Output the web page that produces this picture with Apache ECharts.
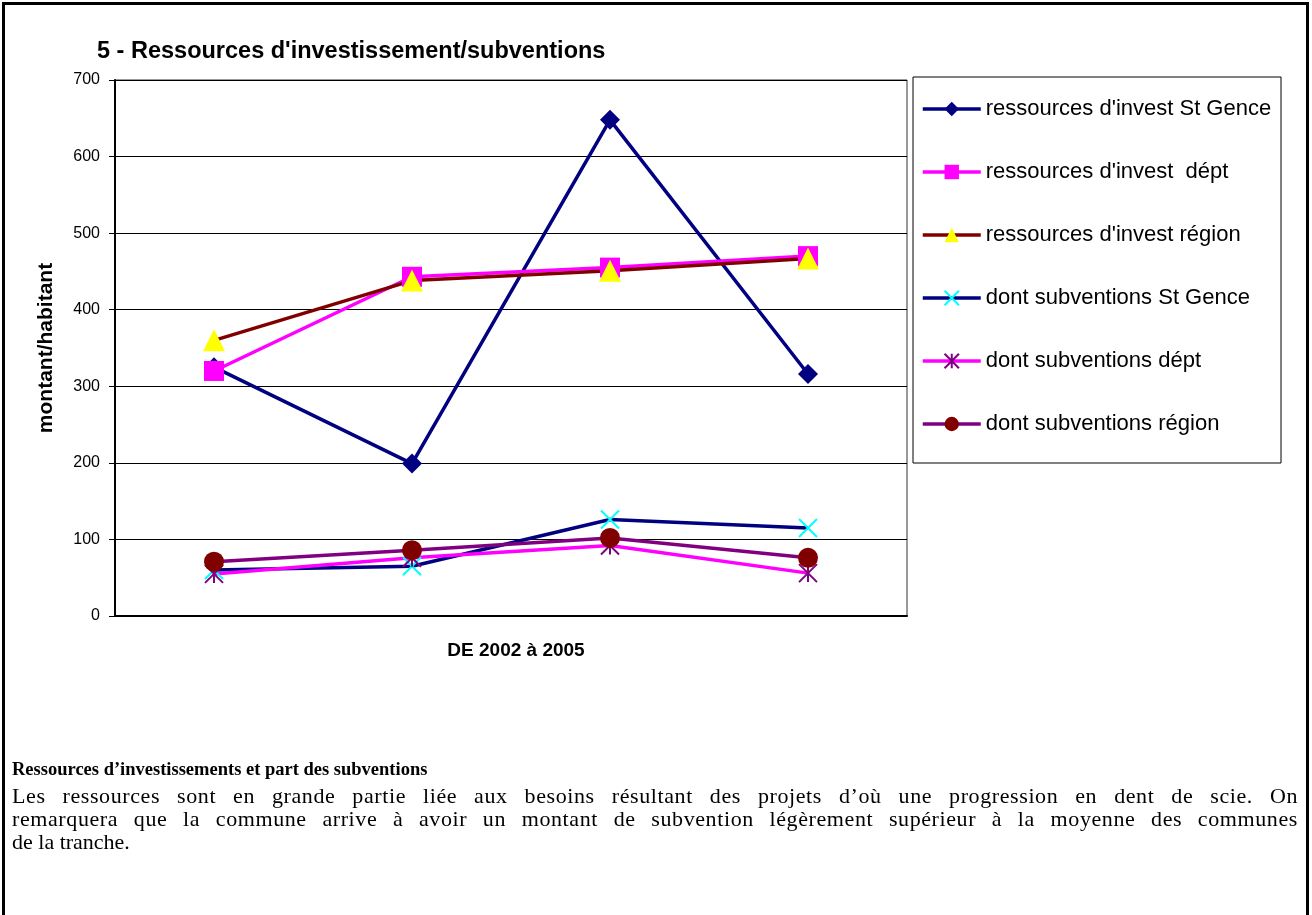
<!DOCTYPE html>
<html lang="fr">
<head>
<meta charset="UTF-8">
<title>Ressources d'investissement/subventions</title>
<script src="https://cdn.jsdelivr.net/npm/echarts@6.0.0/dist/echarts.min.js"></script>
<style>
  html, body { margin: 0; padding: 0; background: #fff; }
  #frame { position: absolute; left: 2px; top: 2px; width: 1307px; height: 930px; border: 3px solid #000; box-sizing: border-box; }
  #chart { position: absolute; left: 0; top: 0; width: 1312px; height: 915px; }
  #texte { position: absolute; left: 12px; top: 758px; width: 1286px; font-family: "Liberation Serif", "Times New Roman", serif; font-size: 22px; line-height: 23px; color: #000; }
  #texte .titre { margin: 0 0 3px 0; font-weight: bold; font-size: 18.5px; }
  #texte .ligne { text-align: justify; text-align-last: justify; white-space: nowrap; letter-spacing: 0.6px; }
  #texte .fin { text-align: left; }
</style>
</head>
<body>
<div id="chart"></div>
<div id="frame"></div>
<div id="texte">
  <div class="titre">Ressources d’investissements et part des subventions</div>
  <div class="ligne">Les ressources sont en grande partie liée aux besoins résultant des projets d’où une progression en dent de scie. On</div>
  <div class="ligne">remarquera que la commune arrive à avoir un montant de subvention légèrement supérieur à la moyenne des communes</div>
  <div class="fin">de la tranche.</div>
</div>

<script>
    // data
    var years = ['2002', '2003', '2004', '2005'];
    var investStGence = [325, 199, 648, 316];
    var investDept = [320, 443, 455, 470];
    var investRegion = [360, 438, 451, 467];
    var subvStGence = [60, 65, 126, 115];
    var subvDept = [55, 76, 92, 56];
    var subvRegion = [71, 86, 102, 76];
    var yTicks = [0, 100, 200, 300, 400, 500, 600, 700];

    var font = '"Liberation Sans", Arial, sans-serif';
    var cross = 'path://M0,0L10,10M10,0L0,10';
    var star = 'path://M0,0L10,10M10,0L0,10M5,0L5,10';

    function serie(name, data, lineColor, symbol, size, markColor, stroked) {
        return {
            name: name,
            type: 'line',
            data: data,
            symbol: symbol,
            symbolSize: size,
            lineStyle: { color: lineColor, width: 3.5 },
            itemStyle: stroked
                ? { color: markColor, borderColor: markColor, borderWidth: 2 }
                : { color: markColor },
            emphasis: { disabled: true },
            animation: false
        };
    }

    var chart = echarts.init(document.getElementById('chart'));
    chart.setOption({
        title: {
            text: "5 - Ressources d'investissement/subventions",
            left: 97,
            top: 40,
            padding: 0,
            textStyle: { fontFamily: font, fontSize: 23.5, fontWeight: 'bold', color: '#000' }
        },
        legend: {
            orient: 'vertical',
            left: 921,
            top: 97,
            padding: 0,
            itemWidth: 58,
            itemHeight: 18,
            itemGap: 39,
            lineStyle: { width: 3.5 },
            textStyle: { fontFamily: font, fontSize: 22, color: '#000', lineHeight: 24 },
            data: ["ressources d'invest St Gence", "ressources d'invest  dépt", "ressources d'invest région",
                   'dont subventions St Gence', 'dont subventions dépt', 'dont subventions région']
        },
        graphic: [{
            type: 'rect',
            shape: { x: 913, y: 77, width: 368, height: 386 },
            style: { fill: 'none', stroke: '#000', lineWidth: 1 }
        }],
        grid: {
            left: 115,
            top: 80,
            right: 405,
            bottom: 299,
            show: true,
            borderColor: '#333',
            borderWidth: 1
        },
        xAxis: {
            type: 'category',
            data: years,
            boundaryGap: true,
            name: 'DE 2002 à 2005',
            nameLocation: 'middle',
            nameGap: 25,
            nameTextStyle: { fontFamily: font, fontSize: 19, fontWeight: 'bold', color: '#000', padding: [0, 0, 0, 10] },
            axisLine: { lineStyle: { color: '#000', width: 2 } },
            axisTick: { show: false },
            axisLabel: { show: false }
        },
        yAxis: {
            type: 'value',
            min: yTicks[0],
            max: yTicks[yTicks.length - 1],
            interval: 100,
            name: 'montant/habitant',
            nameLocation: 'middle',
            nameGap: 58,
            nameTextStyle: { fontFamily: font, fontSize: 21, fontWeight: 'bold', color: '#000' },
            axisLine: { show: true, lineStyle: { color: '#000', width: 2 } },
            axisTick: { show: true, length: 6, lineStyle: { color: '#000' } },
            axisLabel: { fontFamily: font, fontSize: 16, color: '#000', margin: 15 },
            splitLine: { lineStyle: { color: '#000', width: 1 } }
        },
        series: [
            serie("ressources d'invest St Gence", investStGence, '#000080', 'diamond', 20, '#000080'),
            serie("ressources d'invest  dépt", investDept, '#FF00FF', 'rect', 20, '#FF00FF'),
            serie("ressources d'invest région", investRegion, '#800000', 'triangle', 22, '#FFFF00'),
            serie('dont subventions St Gence', subvStGence, '#000080', cross, 18, '#00FFFF', true),
            serie('dont subventions dépt', subvDept, '#FF00FF', star, 18, '#800080', true),
            serie('dont subventions région', subvRegion, '#800080', 'circle', 20, '#800000')
        ]
    });
</script>
</body>
</html>
